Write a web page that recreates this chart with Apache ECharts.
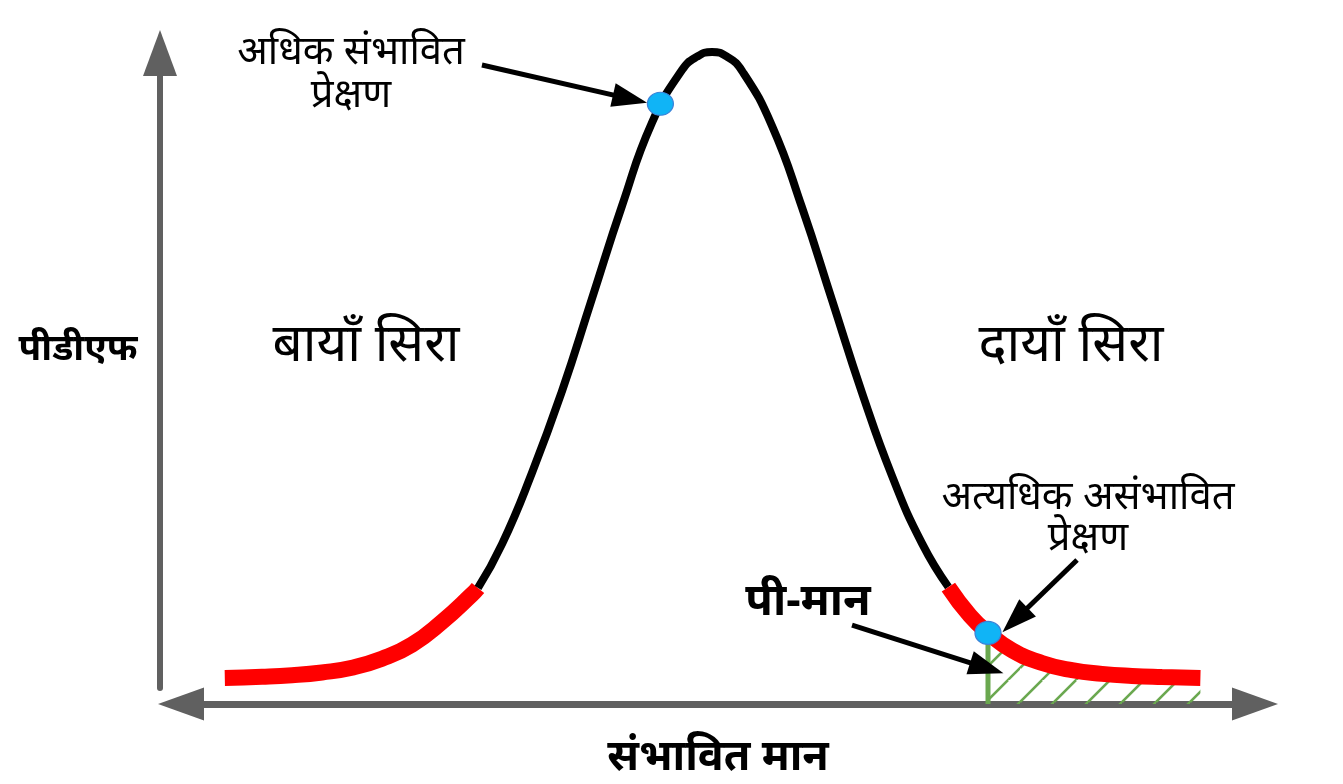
<!DOCTYPE html>
<html>
<head>
<meta charset="utf-8">
<script src="https://cdn.jsdelivr.net/npm/echarts@6/dist/echarts.min.js"></script>
<style>
  html, body { margin: 0; padding: 0; background: #fff; }
  #chart { width: 1343px; height: 784px; }
</style>
</head>
<body>
<div id="chart"></div>
<script>
// x in standard deviations, y is the density value
var leftTailX = [-4.06, -3.75, -3.5, -3.25, -3.0, -2.75, -2.5, -2.25, -2.0, -1.95];
var leftTailY = [0.0013, 0.0020, 0.0030, 0.0048, 0.0078, 0.0135, 0.0225, 0.0370, 0.0545, 0.0586];

var bodyX = [-1.95, -1.75, -1.5, -1.25, -1.0, -0.75, -0.5, -0.25, -0.125, 0,
  0.125, 0.25, 0.5, 0.75, 1.0, 1.25, 1.5, 1.75, 1.97];
var bodyY = [0.0586, 0.0865, 0.1320, 0.1840, 0.2430, 0.3020, 0.3550, 0.3885, 0.3970, 0.4000,
  0.3970, 0.3880, 0.3530, 0.3010, 0.2420, 0.1830, 0.1300, 0.0870, 0.0592];

var rightTailX = [1.97, 2.15, 2.30, 2.5, 2.75, 3.0, 3.25, 3.5, 3.75, 4.07];
var rightTailY = [0.0592, 0.0410, 0.0300, 0.0190, 0.0108, 0.0062, 0.0039, 0.0026, 0.0019, 0.0013];

// the two marked observations
var obsX = [-0.43, 2.30];
var obsY = [0.3670, 0.0300];

var X_MIN = -4.425, X_MAX = 4.525;
var Y_MIN = -0.0153, Y_MAX = 0.414;

function pairs(xs, ys) {
  return xs.map(function (x, i) { return [x, ys[i]]; });
}

// p-value area: from the observation to the end of the right tail
var pStart = rightTailX.indexOf(obsX[1]);
var pArea = pairs(rightTailX.slice(pStart), rightTailY.slice(pStart));

// diagonal hatch for the p-value area
var hatch = document.createElement('canvas');
hatch.width = 34;
hatch.height = 34;
var hc = hatch.getContext('2d');
hc.strokeStyle = '#6aa84f';
hc.lineWidth = 2.5;
[-34, 0, 34].forEach(function (k) {
  hc.beginPath();
  hc.moveTo(0, 22 + k);
  hc.lineTo(22 + k, 0);
  hc.stroke();
});

var FONT = '"Noto Sans", "Noto Sans Devanagari", sans-serif';
var axisGray = '#606060';

var option = {
  animation: false,
  backgroundColor: '#ffffff',
  grid: [
    { left: 181, right: 88, top: 30, bottom: 80, outerBoundsMode: 'none' },
    { left: 160, width: 10, top: 53, bottom: 96, outerBoundsMode: 'none' }
  ],
  xAxis: [
    {
      type: 'value', gridIndex: 0, min: X_MIN, max: X_MAX,
      axisLine: {
        show: true, onZero: false,
        symbol: ['triangle', 'triangle'], symbolSize: [33, 46],
        lineStyle: { color: axisGray, width: 7 }
      },
      axisTick: { show: false }, axisLabel: { show: false }, splitLine: { show: false },
      name: 'संभावित मान', nameLocation: 'middle', nameGap: 32,
      nameTextStyle: { fontFamily: FONT, fontSize: 43, fontWeight: 'bold', color: '#000' }
    },
    { type: 'value', gridIndex: 1, show: false }
  ],
  yAxis: [
    { type: 'value', gridIndex: 0, min: Y_MIN, max: Y_MAX, show: false },
    {
      type: 'value', gridIndex: 1,
      axisLine: {
        show: true, onZero: false,
        symbol: ['none', 'triangle'], symbolSize: [34, 46],
        lineStyle: { color: axisGray, width: 6 }
      },
      axisTick: { show: false }, axisLabel: { show: false }, splitLine: { show: false }
    }
  ],
  series: [
    {
      name: 'p-value area', type: 'line', smooth: true, symbol: 'none', z: 1,
      data: pArea,
      lineStyle: { width: 0 },
      areaStyle: { origin: 'start', opacity: 1, color: { image: hatch, repeat: 'repeat' } }
    },
    {
      name: 'p-value edge', type: 'line', symbol: 'none', z: 2,
      data: [[obsX[1], Y_MIN], [obsX[1], obsY[1]]],
      lineStyle: { color: '#6aa84f', width: 5 }
    },
    {
      name: 'left tail', type: 'line', smooth: true, symbol: 'none', z: 3,
      data: pairs(leftTailX, leftTailY),
      lineStyle: { color: '#ff0000', width: 16, cap: 'butt' }
    },
    {
      name: 'body', type: 'line', smooth: true, symbol: 'none', z: 3,
      data: pairs(bodyX, bodyY),
      lineStyle: { color: '#000000', width: 8, cap: 'butt' }
    },
    {
      name: 'right tail', type: 'line', smooth: true, symbol: 'none', z: 3,
      data: pairs(rightTailX, rightTailY),
      lineStyle: { color: '#ff0000', width: 16, cap: 'butt' }
    },
    {
      name: 'observations', type: 'scatter', z: 5,
      symbol: 'circle', symbolSize: [26, 23],
      data: pairs(obsX, obsY),
      itemStyle: { color: '#10b4f6', borderColor: '#3c82d8', borderWidth: 1.2, opacity: 1 },
      markLine: {
        silent: true, animation: false,
        symbol: ['none', 'triangle'], symbolSize: [24, 35],
        label: { show: false },
        lineStyle: { color: '#000', width: 5, type: 'solid', opacity: 1 },
        data: [
          [{ coord: [-1.917, 0.3917] }, { coord: [-0.683, 0.3701] }],
          [{ coord: [3.042, 0.0764] }, { coord: [2.525, 0.0382] }],
          [{ coord: [1.167, 0.0350] }, { coord: [2.29, 0.0076] }]
        ]
      }
    }
  ],
  graphic: [
    { type: 'text', x: 351, y: 74, style: { text: 'अधिक संभावित\nप्रेक्षण', font: '40px ' + FONT, lineHeight: 43, align: 'center', verticalAlign: 'middle', fill: '#000' } },
    { type: 'text', x: 366, y: 346, style: { text: 'बायाँ सिरा', font: '53px ' + FONT, align: 'center', verticalAlign: 'middle', fill: '#000' } },
    { type: 'text', x: 1071, y: 346, style: { text: 'दायाँ सिरा', font: '53px ' + FONT, align: 'center', verticalAlign: 'middle', fill: '#000' } },
    { type: 'text', x: 78, y: 349, style: { text: 'पीडीएफ', font: 'bold 37px ' + FONT, align: 'center', verticalAlign: 'middle', fill: '#000' } },
    { type: 'text', x: 1088, y: 518, style: { text: 'अत्यधिक असंभावित\nप्रेक्षण', font: '40px ' + FONT, lineHeight: 41, align: 'center', verticalAlign: 'middle', fill: '#000' } },
    { type: 'text', x: 808, y: 602, style: { text: 'पी-मान', font: 'bold 45px ' + FONT, align: 'center', verticalAlign: 'middle', fill: '#000' } }
  ]
};

var chart = echarts.init(document.getElementById('chart'));
chart.setOption(option);
</script>
</body>
</html>
